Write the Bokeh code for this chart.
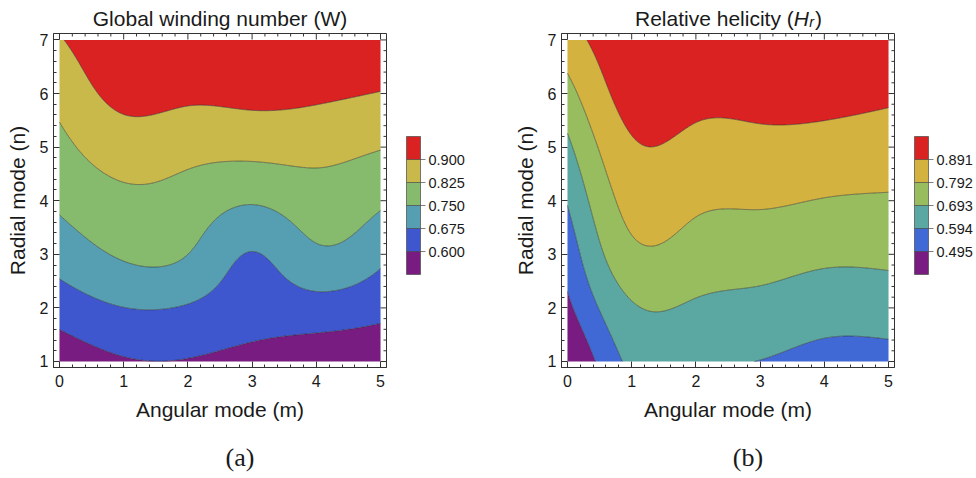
import numpy as np
from bokeh.plotting import figure
from bokeh.layouts import row, column
from bokeh.models import (ColorBar, LinearColorMapper, FixedTicker, PrintfTickFormatter,
                          SingleIntervalTicker, Range1d)
from bokeh.core.properties import value
from bokeh.embed import file_html
from bokeh.resources import INLINE

# Mode grid: angular mode m (columns) and radial mode n (rows)
m_modes = [0, 1, 2, 3, 4, 5]
n_modes = [1, 2, 3, 4, 5, 6, 7]

# Global winding number W, one row per radial mode n = 1..7
winding = [
    [0.550, 0.593, 0.596, 0.572, 0.550, 0.548],
    [0.633, 0.674, 0.669, 0.638, 0.645, 0.621],
    [0.707, 0.759, 0.750, 0.672, 0.736, 0.694],
    [0.763, 0.808, 0.796, 0.757, 0.792, 0.762],
    [0.805, 0.863, 0.850, 0.848, 0.849, 0.829],
    [0.849, 0.920, 0.913, 0.918, 0.911, 0.898],
    [0.895, 0.950, 0.950, 0.950, 0.940, 0.930],
]

# Relative helicity H_r, one row per radial mode n = 1..7
helicity = [
    [0.360, 0.615, 0.614, 0.592, 0.561, 0.561],
    [0.472, 0.682, 0.680, 0.664, 0.637, 0.640],
    [0.535, 0.768, 0.750, 0.734, 0.713, 0.715],
    [0.600, 0.826, 0.809, 0.803, 0.788, 0.782],
    [0.672, 0.879, 0.865, 0.865, 0.859, 0.845],
    [0.758, 0.930, 0.918, 0.920, 0.918, 0.905],
    [0.848, 0.960, 0.950, 0.950, 0.950, 0.940],
]

winding_levels = [0.600, 0.675, 0.750, 0.825, 0.900]
helicity_levels = [0.495, 0.594, 0.693, 0.792, 0.891]

# band colours, lowest band first
winding_colors = ["#781C82", "#3E57CF", "#569FB2", "#86BB6E", "#C9B94A", "#DA2222"]
helicity_colors = ["#781C82", "#4169D6", "#5BA8A3", "#97BD5F", "#D4B23F", "#DA2222"]

SANS = "Liberation Sans"
SERIF = "Liberation Serif"
INK = "#1a1a1a"
FRAME = "#333333"

PANEL_W = 488
X_RANGE = (-0.093, 5.093)
Y_RANGE = (0.888, 7.12)
FRAME_W, FRAME_H = 333, 334


def spline_matrix(n, t):
    """Natural cubic spline weights on knots 0..n-1, evaluated at t."""
    A = np.zeros((n, n))
    D = np.zeros((n, n))
    A[0, 0] = A[-1, -1] = 1.0
    for i in range(1, n - 1):
        A[i, i - 1], A[i, i], A[i, i + 1] = 1.0, 4.0, 1.0
        D[i, i - 1], D[i, i], D[i, i + 1] = 6.0, -12.0, 6.0
    M = np.linalg.solve(A, D)
    i = np.clip(np.floor(t).astype(int), 0, n - 2)
    s = t - i
    W = np.zeros((len(t), n))
    rows = np.arange(len(t))
    W[rows, i] += 1 - s
    W[rows, i + 1] += s
    W += (((1 - s) ** 3 - (1 - s)) / 6)[:, None] * M[i] + ((s ** 3 - s) / 6)[:, None] * M[i + 1]
    return W


def smooth_surface(z):
    z = np.asarray(z, dtype=float)
    mf = np.linspace(m_modes[0], m_modes[-1], 201)
    nf = np.linspace(n_modes[0], n_modes[-1], 241)
    wx = spline_matrix(len(m_modes), mf - m_modes[0])
    wy = spline_matrix(len(n_modes), nf - n_modes[0])
    zf = wy @ z @ wx.T
    X, Y = np.meshgrid(mf, nf)
    return X, Y, zf


def style_axis(ax, label):
    ax.ticker = SingleIntervalTicker(interval=1, num_minor_ticks=5)
    ax.axis_line_color = FRAME
    ax.major_tick_line_color = FRAME
    ax.minor_tick_line_color = FRAME
    ax.major_tick_in = 6
    ax.major_tick_out = 0
    ax.minor_tick_in = 3
    ax.minor_tick_out = 0
    ax.major_label_text_font = SANS
    ax.major_label_text_font_size = "16px"
    ax.major_label_text_color = INK
    ax.axis_label = label
    ax.axis_label_text_font = SANS
    ax.axis_label_text_font_size = "21px"
    ax.axis_label_text_font_style = "normal"
    ax.axis_label_text_color = INK


def frame_ticks(p):
    """Inward ticks along the top and right edges of the frame."""
    ux = (X_RANGE[1] - X_RANGE[0]) / FRAME_W
    uy = (Y_RANGE[1] - Y_RANGE[0]) / FRAME_H
    xt = np.round(np.arange(0, 5.0001, 0.2), 3)
    yt = np.round(np.arange(1, 7.0001, 0.2), 3)
    xl = np.where(np.isclose(xt % 1, 0) | np.isclose(xt % 1, 1), 6, 3)
    yl = np.where(np.isclose(yt % 1, 0) | np.isclose(yt % 1, 1), 6, 3)
    top = Y_RANGE[1]
    rgt = X_RANGE[1]
    p.segment(x0=xt, y0=np.full(len(xt), top), x1=xt, y1=top - xl * uy,
              line_color=FRAME, line_width=1)
    p.segment(x0=np.full(len(yt), rgt), y0=yt, x1=rgt - yl * ux, y1=yt,
              line_color=FRAME, line_width=1)


def panel(z, levels, colors, border_left, border_right, cb_x):
    p = figure(width=PANEL_W, height=406, output_backend="svg", toolbar_location=None,
               x_range=Range1d(*X_RANGE), y_range=Range1d(*Y_RANGE),
               min_border_left=border_left, min_border_right=border_right,
               min_border_top=2, min_border_bottom=70, title_location=None,
               background_fill_color="white", border_fill_color="white")
    p.xgrid.visible = False
    p.ygrid.visible = False
    p.outline_line_color = FRAME

    X, Y, zf = smooth_surface(z)
    step = levels[1] - levels[0]
    bounds = [float(zf.min()) - 1.0] + list(levels) + [float(zf.max()) + 1.0]
    p.contour(X, Y, zf, bounds, fill_color=colors, line_color="#2b2b2b",
              line_alpha=0.6, line_width=0.9)

    frame_ticks(p)
    style_axis(p.xaxis[0], "Angular mode (m)")
    style_axis(p.yaxis[0], "Radial mode (n)")
    p.xaxis[0].major_label_standoff = 7
    p.yaxis[0].major_label_standoff = 5
    p.xaxis[0].axis_label_standoff = 8
    p.yaxis[0].axis_label_standoff = 8

    mapper = LinearColorMapper(palette=colors, low=levels[0] - step, high=levels[-1] + step)
    cb = ColorBar(color_mapper=mapper, ticker=FixedTicker(ticks=levels),
                  formatter=PrintfTickFormatter(format="%.3f"),
                  orientation="vertical", width=14, height=138,
                  location=(cb_x, 93), padding=0, margin=0, label_standoff=3,
                  major_tick_in=14, major_tick_out=5,
                  major_tick_line_color="#4a4a4a", major_tick_line_alpha=0.7,
                  bar_line_color="#4a4a4a", bar_line_alpha=0.7,
                  border_line_color=None, background_fill_alpha=0,
                  major_label_text_font=SANS, major_label_text_font_size="14.5px",
                  major_label_text_color=INK)
    p.add_layout(cb, "right")
    return p


def strip(height):
    """A bare text strip whose coordinates are pixels from its top-left corner."""
    s = figure(width=PANEL_W, height=height, output_backend="svg", toolbar_location=None,
               x_range=Range1d(0, PANEL_W), y_range=Range1d(height, 0),
               x_axis_type=None, y_axis_type=None, min_border=0, title_location=None,
               background_fill_color="white", border_fill_color="white")
    s.outline_line_color = None
    return s


def put(s, x, y, text, font=SANS, size="21px", style="normal", align="left"):
    s.text(x=[x], y=[y], text=[text], text_font=value(font), text_font_size=value(size),
           text_font_style=value(style), text_color=INK, text_align=align,
           text_baseline="alphabetic")


# titles
title_a = strip(31)
put(title_a, 219.5, 17.5, "Global winding number (W)", align="center")
title_b = strip(31)
put(title_b, 146.5, 17.5, "Relative helicity (")
put(title_b, 305.2, 17.5, "H", style="italic")
put(title_b, 320.8, 21.5, "r", size="14.5px", style="italic")
put(title_b, 326.5, 17.5, ")")

# contour panels
left = panel(winding, winding_levels, winding_colors, 53, 102, 20)
right = panel(helicity, helicity_levels, helicity_colors, 73, 82, 20)

# captions
cap_a = strip(41)
put(cap_a, 239.5, 20, "(a)", font=SERIF, size="26px", align="center")
cap_b = strip(41)
put(cap_b, 259.5, 20, "(b)", font=SERIF, size="26px", align="center")

layout = column(row(title_a, title_b), row(left, right), row(cap_a, cap_b))
open("out.html", "w").write(file_html(layout, INLINE))
